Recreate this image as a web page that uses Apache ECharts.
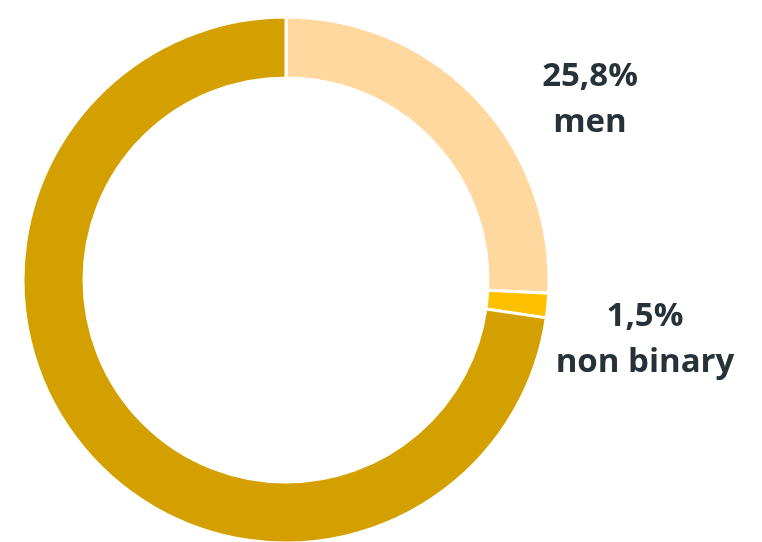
<!DOCTYPE html>
<html>
<head>
<meta charset="utf-8">
<script src="https://cdn.jsdelivr.net/npm/echarts@6/dist/echarts.min.js"></script>
<style>
  html, body { margin: 0; padding: 0; background: #fff; }
  #chart { width: 762px; height: 542px; }
</style>
</head>
<body>
<div id="chart"></div>
<script>
// values
const categories = ['men', 'non binary', 'women'];
const shares = [25.8, 1.5, 72.7];
const labelTexts = ['25,8%\nmen', '1,5%\nnon binary', ''];
const colors = ['#FFD8A0', '#FFC000', '#D4A000'];

// where each label sits (women has none)
const labelSpots = [
  { x: 590, y: 100 },
  { x: 645, y: 340 },
  null
];

const chart = echarts.init(document.getElementById('chart'), null, { renderer: 'canvas' });

const pieData = categories.map((name, i) => ({
  name: name,
  value: shares[i],
  itemStyle: { color: colors[i] },
  label: { show: labelTexts[i] !== '', formatter: labelTexts[i] }
}));

const option = {
  animation: false,
  backgroundColor: '#ffffff',
  series: [{
    type: 'pie',
    center: [286, 280],
    radius: [202, 263],
    startAngle: 90,
    clockwise: true,
    avoidLabelOverlap: false,
    itemStyle: {
      borderColor: '#ffffff',
      borderWidth: 3
    },
    label: {
      position: 'outside',
      fontFamily: '"Open Sans", "Noto Sans", sans-serif',
      fontWeight: 'bold',
      fontSize: 33,
      lineHeight: 46,
      color: '#263238',
      align: 'center'
    },
    labelLine: { show: false },
    labelLayout: function (params) {
      const spot = labelSpots[params.dataIndex];
      if (!spot) return {};
      return { x: spot.x, y: spot.y, align: 'center', verticalAlign: 'middle' };
    },
    data: pieData
  }]
};

chart.setOption(option);
</script>
</body>
</html>
